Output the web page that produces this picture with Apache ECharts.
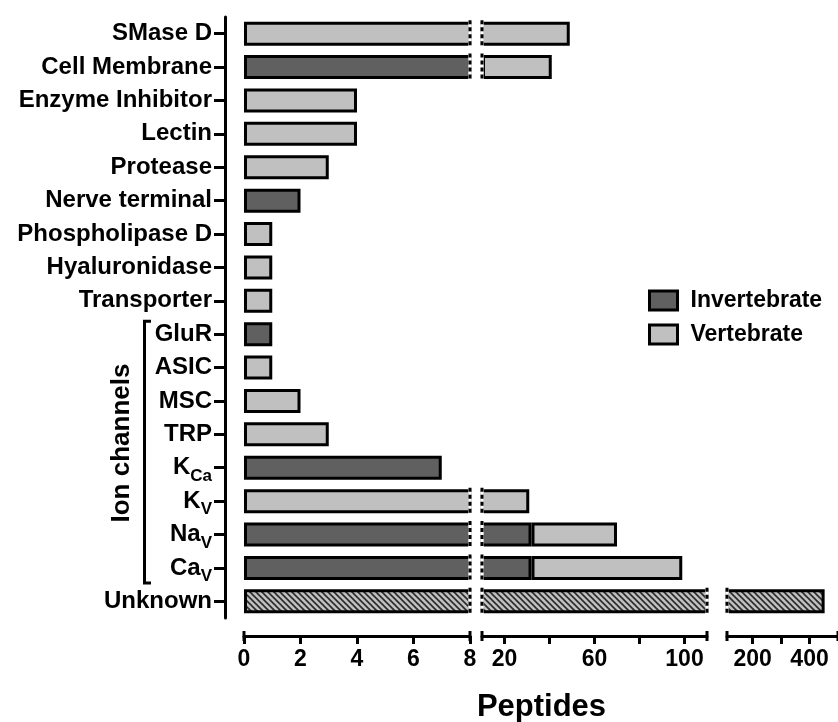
<!DOCTYPE html>
<html>
<head>
<meta charset="utf-8">
<script src="https://cdn.jsdelivr.net/npm/echarts@6/dist/echarts.min.js"></script>
<style>
  html, body { margin: 0; padding: 0; background: #fff; }
  #chart { width: 838px; height: 722px; }
</style>
</head>
<body>
<div id="chart"></div>
<script>
var categories = ['SMase D', 'Cell Membrane', 'Enzyme Inhibitor', 'Lectin', 'Protease', 'Nerve terminal',
  'Phospholipase D', 'Hyaluronidase', 'Transporter', 'GluR', 'ASIC', 'MSC', 'TRP',
  'K_Ca', 'K_V', 'Na_V', 'Ca_V', 'Unknown'];
var invertebrate = ['-', 10, '-', '-', '-', 2, '-', '-', '-', 1, '-', '-', '-', 7, '-', 32, 32, '-'];
var vertebrate = [49, 31, 4, 4, 3, '-', 1, 1, 1, '-', 1, 2, 3, '-', 31, 38, 67, '-'];
var unknown = ['-', '-', '-', '-', '-', '-', '-', '-', '-', '-', '-', '-', '-', '-', '-', '-', '-', 453];
var ionChannels = ['GluR', 'Ca_V'];
// broken x axis: three pieces
var segments = [[0, 8], [10, 110], [110, 500]];
var tickValues = [[0, 2, 4, 6, 8], [20, 40, 60, 80, 100], [200, 300, 400]];
var labelValues = [[0, 2, 4, 6, 8], [20, 60, 100], [200, 400]];

var FONT = 'Liberation Sans, Arial, sans-serif';
var chart = echarts.init(document.getElementById('chart'));

function hatch() {
  var c = document.createElement('canvas');
  c.width = 6; c.height = 6;
  var g = c.getContext('2d');
  g.fillStyle = '#c0c0c0';
  g.fillRect(0, 0, 6, 6);
  g.strokeStyle = '#2a2a2a';
  g.lineWidth = 1.6;
  g.beginPath();
  g.moveTo(0, 0); g.lineTo(6, 6);
  g.moveTo(-3, 3); g.lineTo(3, 9);
  g.moveTo(3, -3); g.lineTo(9, 3);
  g.stroke();
  return c;
}

function catLabel(v) {
  var p = v.split('_');
  return p.length > 1 ? p[0] + '{s|' + p[1] + '}' : v;
}

var gridBox = [{left: 244, width: 226}, {left: 482, width: 225}, {left: 727, width: 112}];
var grids = [], xAxes = [], yAxes = [], series = [];
var pattern = hatch();

segments.forEach(function (seg, i) {
  grids.push({left: gridBox[i].left, width: gridBox[i].width, top: 17, height: 601});
  xAxes.push({
    gridIndex: i, type: 'value', min: seg[0], max: seg[1], offset: 18,
    splitLine: {show: false},
    axisLine: {show: true, onZero: false, lineStyle: {color: '#000', width: 3},
      symbol: ['rect', 'rect'], symbolSize: [10, 3]},
    axisTick: {show: true, length: 8, customValues: tickValues[i], lineStyle: {color: '#000', width: 3}},
    axisLabel: {customValues: labelValues[i], color: '#000', fontSize: 23, fontWeight: 'bold',
      fontFamily: FONT, margin: 12}
  });
  yAxes.push({
    gridIndex: i, type: 'category', data: categories, inverse: true, show: i === 0, offset: 19,
    axisLine: {show: true, onZero: false, lineStyle: {color: '#000', width: 3}},
    axisTick: {show: true, alignWithLabel: true, length: 11, lineStyle: {color: '#000', width: 3}},
    axisLabel: {
      margin: 13, color: '#000', fontSize: 24, fontWeight: 'bold', fontFamily: FONT,
      formatter: catLabel,
      rich: {s: {fontSize: 17, fontWeight: 'bold', fontFamily: FONT, color: '#000', padding: [17, 0, 0, 0]}}
    }
  });
  var common = {type: 'bar', stack: 'p' + i, xAxisIndex: i, yAxisIndex: i, barWidth: 24, clip: true};
  series.push(Object.assign({name: 'Invertebrate', data: invertebrate,
    itemStyle: {color: '#606060', borderColor: '#000', borderWidth: 3}}, common));
  series.push(Object.assign({name: 'Vertebrate', data: vertebrate,
    itemStyle: {color: '#c0c0c0', borderColor: '#000', borderWidth: 3}}, common));
  series.push(Object.assign({name: 'Unknown', data: unknown,
    itemStyle: {color: {image: pattern, repeat: 'repeat'}, borderColor: '#000', borderWidth: 3}}, common));
});

chart.setOption({
  animation: false,
  backgroundColor: '#fff',
  grid: grids,
  xAxis: xAxes,
  yAxis: yAxes,
  legend: {
    data: ['Invertebrate', 'Vertebrate'], orient: 'vertical', left: 648, top: 289, padding: 0,
    itemWidth: 28, itemHeight: 19, itemGap: 11, icon: 'rect',
    itemStyle: {borderColor: '#000', borderWidth: 3},
    textStyle: {fontSize: 23, fontWeight: 'bold', color: '#000', fontFamily: FONT, padding: [0, 0, 0, 8]}
  },
  series: series
});

// annotations: ion channel bracket, axis title, dashed break ends
var graphics = [];
function px(g, x, cat) { return chart.convertToPixel({gridIndex: g}, [x, cat]); }
var bTop = px(0, 0, ionChannels[0])[1] - 13;
var bBot = px(0, 0, ionChannels[1])[1] + 15;
graphics.push({type: 'polyline', shape: {points: [[151, bTop], [144.5, bTop], [144.5, bBot], [151, bBot]]},
  style: {stroke: '#000', lineWidth: 3, fill: null}});
graphics.push({type: 'text', x: 122, y: (bTop + bBot) / 2 - 9, rotation: Math.PI / 2,
  style: {text: 'Ion channels', font: 'bold 26px ' + FONT, fill: '#000', align: 'center', verticalAlign: 'middle'}});
graphics.push({type: 'text', x: (gridBox[0].left + gridBox[2].left + gridBox[2].width) / 2, y: 707,
  style: {text: 'Peptides', font: 'bold 31px ' + FONT, fill: '#000', align: 'center', verticalAlign: 'middle'}});

function num(v) { return v === '-' ? 0 : v; }
categories.forEach(function (c, r) {
  var total = num(invertebrate[r]) + num(vertebrate[r]) + num(unknown[r]);
  var cuts = [];
  if (total > segments[0][1]) cuts.push([0, segments[0][1]]);
  if (total > segments[1][0]) cuts.push([1, segments[1][0]]);
  if (total > segments[1][1]) { cuts.push([1, segments[1][1]]); cuts.push([2, segments[2][0]]); }
  cuts.forEach(function (k) {
    var p = px(k[0], k[1], c);
    var y1 = p[1] - 13.5, y2 = p[1] + 13.5;
    graphics.push({type: 'line', shape: {x1: p[0], y1: y1, x2: p[0], y2: y2},
      style: {stroke: '#fff', lineWidth: 3.5}, z: 100});
    graphics.push({type: 'line', shape: {x1: p[0], y1: y1, x2: p[0], y2: y2},
      style: {stroke: '#000', lineWidth: 3, lineDash: [4, 3]}, z: 101});
  });
});
chart.setOption({graphic: graphics});
</script>
</body>
</html>
